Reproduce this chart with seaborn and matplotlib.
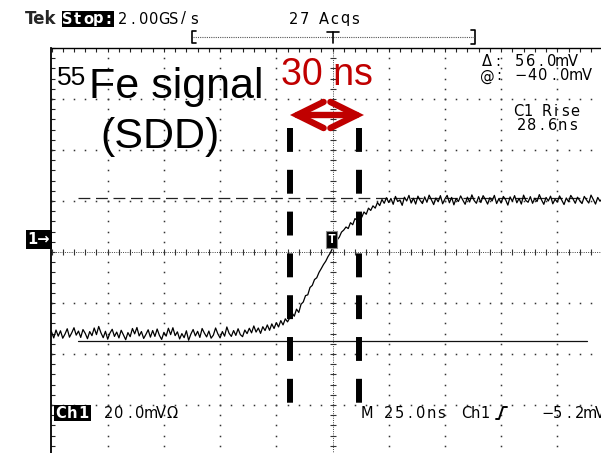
import numpy as np
import pandas as pd
import matplotlib
matplotlib.use("Agg")
import matplotlib.pyplot as plt
import seaborn as sns
from matplotlib.lines import Line2D
from matplotlib.patches import Rectangle

# ---------------- data ----------------
time_ns = list(range(-125, 121, 1))            # 1 ns sample spacing

baseline_mv = [
    -36.5, -38.9, -35.8, -38.2, -36.1, -39.0, -37.4, -35.3, -38.6, -36.9,
    -34.9, -37.8, -36.2, -38.7, -35.6, -37.1, -39.2, -36.4, -38.0, -35.0,
    -37.6, -34.4, -36.9, -38.8, -36.3, -39.4, -37.0, -35.5, -38.3, -36.6,
    -38.9, -35.9, -37.7, -39.6, -36.8, -38.4, -35.2, -37.3, -34.8, -38.1,
    -36.4, -39.1, -37.5, -35.7, -38.6, -36.0, -38.3, -35.4, -37.9, -39.5,
    -36.7, -38.2, -35.1, -37.6, -34.9, -38.0, -36.5, -39.3, -37.2, -38.8,
    -36.1, -39.8, -37.4, -35.6, -38.1, -36.3, -38.7, -35.2, -37.0, -38.5,
    -36.2, -39.0, -37.8, -35.0, -37.3, -38.9, -36.4, -38.2, -34.6, -37.1,
]
foot_mv = [
    -38.3, -36.0, -37.9, -35.3, -37.6, -38.4, -35.8, -37.2, -35.1, -36.9,
    -34.2, -36.6, -35.0, -37.1, -34.5, -36.0, -33.8, -35.9, -33.4, -35.2,
    -32.9, -34.6, -32.1, -33.8, -31.4, -32.6,
]
edge_mv = [
    -31.0, -29.1, -30.4, -27.6, -28.9, -25.7, -24.8, -22.3, -22.0, -19.1,
    -18.3, -16.0, -15.3, -13.2, -11.7, -10.1, -8.8, -7.0, -5.6, -3.7,
    -2.3, -0.5, 0.6, 2.6, 3.4, 4.6, 4.0, 6.3, 5.5, 7.9,
    7.2, 9.3, 8.4, 10.5, 9.6, 12.0, 11.1, 12.9, 12.0, 14.2,
]
plateau_mv = [
    13.0, 15.4, 13.9, 16.1, 14.2, 15.8, 13.5, 16.6, 14.6, 15.2,
    13.1, 16.3, 14.8, 17.0, 14.0, 15.9, 13.6, 16.7, 15.0, 13.8,
    16.4, 14.3, 17.1, 15.2, 13.4, 16.0, 14.5, 16.9, 13.7, 15.6,
    17.0, 14.1, 16.2, 13.3, 15.8, 14.6, 16.8, 15.1, 13.5, 16.3,
    14.4, 17.2, 15.0, 13.9, 16.5, 14.2, 16.9, 15.4, 13.6, 16.1,
    14.8, 17.0, 13.8, 15.7, 14.0, 16.6, 15.3, 13.2, 16.4, 14.7,
    16.9, 14.1, 15.8, 13.6, 17.1, 15.0, 14.3, 16.5, 13.9, 15.9,
    14.6, 17.3, 15.2, 13.5, 16.2, 14.8, 16.7, 13.7, 15.5, 14.4,
    16.8, 15.1, 13.4, 16.0, 14.5, 17.0, 15.6, 13.9, 16.3, 14.9,
    13.8, 16.6, 15.2, 14.0, 17.1, 15.4, 13.6, 16.2, 14.7, 15.8,
]
signal_mv = baseline_mv + foot_mv + edge_mv + plateau_mv

# scope settings / cursors
mv_per_div = 20.0
ns_per_div = 25.0
trigger_mv = -5.2
cursor_low_mv = -40.0
cursor_delta_mv = 56.0
cursor_span_ns = [-113, 113]
rise_marks_ns = [-18.9, 11.8]      # the "30 ns" markers

# ---------------- figure ----------------
W, H = 601, 453
sns.set_theme(style="white")
plt.rcParams["font.family"] = ["DejaVu Sans"]

fig = plt.figure(figsize=(W / 100, H / 100), dpi=100)
fig.patch.set_facecolor("white")

left_px, top_px, div_w, div_h = 51.5, 48.0, 56.2, 51.0
ax = fig.add_axes([left_px / W, 1 - (top_px + 8 * div_h) / H,
                   10 * div_w / W, 8 * div_h / H])
ax.set_facecolor("white")
xmin, xmax = -5 * ns_per_div, 5 * ns_per_div
ymin, ymax = trigger_mv - 4 * mv_per_div, trigger_mv + 4 * mv_per_div
ax.set_xlim(xmin, xmax)
ax.set_ylim(ymin, ymax)

for s in ["right", "bottom"]:
    ax.spines[s].set_visible(False)
ax.spines["left"].set_linewidth(1.3)
ax.spines["top"].set_linewidth(1.0)
ax.spines["left"].set_color("black")
ax.spines["top"].set_color("black")

# frame ticks every 1/5 division
ax.xaxis.tick_top()
ax.set_xticks(np.arange(xmin, xmax + 0.01, ns_per_div / 5))
ax.set_yticks(np.arange(ymin, ymax + 0.01, mv_per_div / 5))
ax.tick_params(axis="x", direction="in", length=3, width=0.8, color="#222",
               top=True, bottom=False, labeltop=False, labelbottom=False)
ax.tick_params(axis="y", direction="in", length=3, width=0.8, color="#222",
               left=True, right=False, labelleft=False)

# graticule dots
sub_x = np.arange(xmin, xmax + 0.01, ns_per_div / 5)
sub_y = np.arange(ymin, ymax + 0.01, mv_per_div / 5)
gx, gy = [], []
for k in range(1, 10):
    if k == 5:
        continue
    xv = xmin + k * ns_per_div
    gx += [xv] * len(sub_y)
    gy += list(sub_y)
for k in range(1, 8):
    if k == 4:
        continue
    yv = ymin + k * mv_per_div
    gx += list(sub_x)
    gy += [yv] * len(sub_x)
ax.plot(gx, gy, ls="none", marker="s", ms=1.1, mew=0, color="#333", zorder=1)

# centre cross-hairs with sub-division ticks
ax.axhline(trigger_mv, color="#444", lw=0.7, ls=(0, (1, 1.3)), zorder=1)
ax.axvline(0, color="#444", lw=0.7, ls=(0, (1, 1.3)), zorder=1)
ax.plot(sub_x, [trigger_mv] * len(sub_x), ls="none", marker="|", ms=4.5,
        mew=0.8, color="#333", zorder=1)
ax.plot([0] * len(sub_y), sub_y, ls="none", marker="_", ms=4.5,
        mew=0.8, color="#333", zorder=1)

# amplitude cursors
ax.plot(cursor_span_ns, [cursor_low_mv] * 2, color="#111", lw=0.9, zorder=3)
ax.plot(cursor_span_ns, [cursor_low_mv + cursor_delta_mv] * 2, color="#222",
        lw=0.9, dashes=(9.5, 4.5), zorder=3)

# waveform
df = pd.DataFrame({"t": time_ns, "v": signal_mv})
sns.lineplot(data=df, x="t", y="v", ax=ax, color="black", lw=0.9,
             zorder=5, sort=False)
ax.set_xlabel("")
ax.set_ylabel("")

# thick dashed rise-time markers
def px_to_mv(py):
    return trigger_mv - (py - (top_px + 4 * div_h)) / div_h * mv_per_div

for xr in rise_marks_ns:
    ax.plot([xr, xr], [px_to_mv(128), px_to_mv(404)], color="black", lw=4.3,
            dashes=(4, 3), solid_capstyle="butt", dash_capstyle="butt",
            zorder=7)

# red double arrow
red = "#C00000"
ax.annotate("", xy=(rise_marks_ns[0], px_to_mv(115)),
            xytext=(rise_marks_ns[1] + 2.2, px_to_mv(115)),
            arrowprops=dict(arrowstyle="<->,head_length=0.95,head_width=0.47",
                            color=red, lw=4.6, mutation_scale=20,
                            shrinkA=0, shrinkB=0, capstyle="round",
                            joinstyle="miter"), zorder=8)

# ---------------- helpers for screen text ----------------
def P(x, y):
    return (x / W, 1 - y / H)

def fline(xs, ys, **kw):
    fig.add_artist(Line2D([x / W for x in xs], [1 - y / H for y in ys],
                          transform=fig.transFigure, **kw))

def frect(x0, y0, x1, y1, color="black"):
    fig.add_artist(Rectangle((x0 / W, 1 - y1 / H), (x1 - x0) / W, (y1 - y0) / H,
                             transform=fig.transFigure, fc=color, ec="none",
                             zorder=9))

def stext(x, y, s, pitch=10.6, size=10.5, color="black", weight="normal"):
    """Fixed-pitch screen text like the scope's font."""
    for i, ch in enumerate(s):
        if ch == " ":
            continue
        fig.text(*P(x + pitch * (i + 0.5), y), ch, fontsize=size, color=color,
                 weight=weight, family="DejaVu Sans", ha="center", va="center",
                 zorder=10)

# big annotation text
fig.text(*P(281, 85), "30 ns", fontsize=27, color=red,
         family="Liberation Sans", va="baseline", ha="left", zorder=9)
fig.text(*P(57, 85), "55", fontsize=19, color="black",
         family="Liberation Sans", va="baseline", ha="left", zorder=9)
fig.text(*P(89, 98), "Fe signal", fontsize=31, color="black",
         family="Liberation Sans", va="baseline", ha="left", zorder=9)
fig.text(*P(100, 148), "(SDD)", fontsize=31, color="black",
         family="Liberation Sans", va="baseline", ha="left", zorder=9)

# header
fig.text(*P(25, 19), "Tek", fontsize=12, weight="bold", family="DejaVu Sans",
         va="center", ha="left")
frect(62, 11, 114, 27)
stext(62, 19, "Stop:", pitch=10.4, size=10.5, color="white", weight="bold")
stext(118, 19, "2.00GS/s", pitch=10.1)
stext(289, 19, "27 Acqs", pitch=10.1)

# record-length bar
fline([196, 192, 192, 196], [31, 31, 43, 43], color="black", lw=1.2)
fline([471, 475, 475, 471], [30, 30, 44, 44], color="black", lw=1.2)
fline([193, 474], [37, 37], color="#555", lw=0.8, ls=(0, (1, 1)))
fline([327, 339], [32, 32], color="black", lw=1.2)
fline([333, 333], [32, 43], color="black", lw=1.2)

# cursor read-outs
stext(482, 62, "Δ: 56.0mV", pitch=10.7)
stext(482, 76, "@: −40.0mV", pitch=11.0)
stext(514, 111, "C1 Rise", pitch=9.3)
stext(516, 125, "28.6ns", pitch=10.4)

# channel ground marker & trigger marker
fig.text(*P(38.5, 239.5), "1→", fontsize=10.5, weight="bold", family="DejaVu Sans",
         color="white", va="center", ha="center",
         bbox=dict(boxstyle="square,pad=0.12", fc="black", ec="none"))
fig.text(*P(331.5, 239.5), "T", fontsize=9.5, weight="bold", family="DejaVu Sans Mono",
         color="white", va="center", ha="center", zorder=10,
         bbox=dict(boxstyle="square,pad=0.15", fc="black", ec="#888", lw=0.8))

# bottom status line
frect(54, 405, 91, 421)
stext(55, 413, "Ch1", pitch=11.2, size=10.5, color="white", weight="bold")
stext(103, 413, "20.0mVΩ", pitch=10.6)
stext(362, 413, "M 25.0ns", pitch=10.6)
stext(461, 413, "Ch1", pitch=9.8)
fline([496, 499, 503, 507], [419, 419, 407, 407], color="black", lw=1.4)
stext(542, 413, "−5.2mV", pitch=10.6)

fig.savefig("out.png", dpi=100, facecolor="white")
